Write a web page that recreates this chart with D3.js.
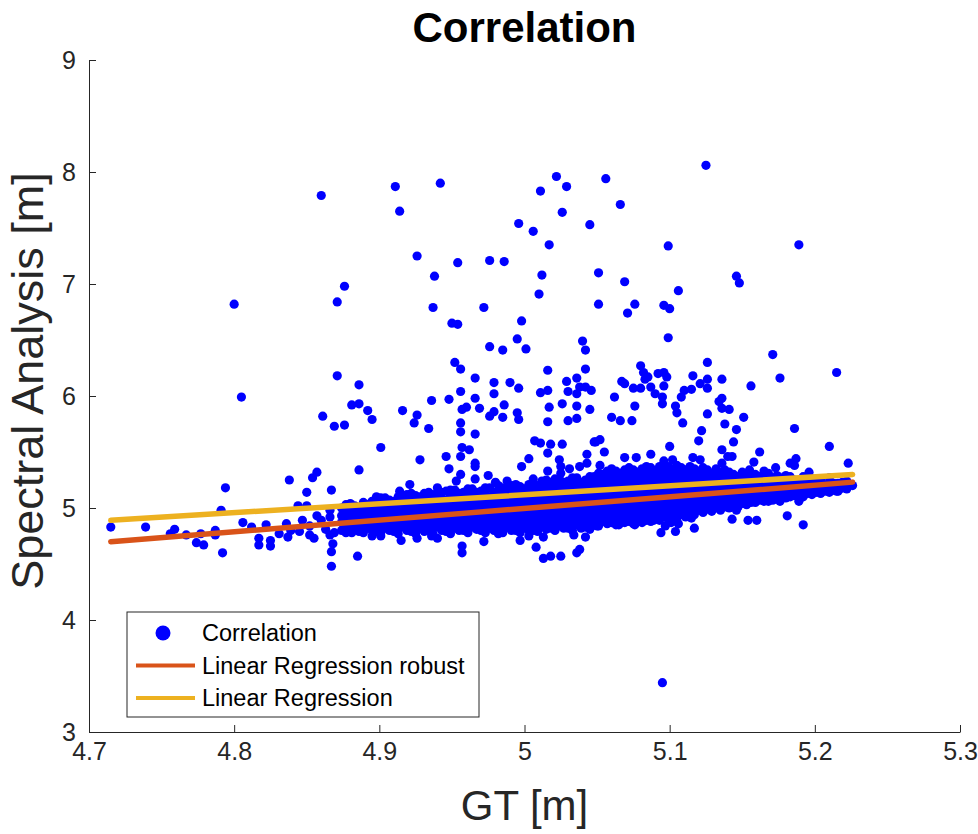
<!DOCTYPE html>
<html>
<head>
<meta charset="utf-8">
<script src="https://cdn.jsdelivr.net/npm/d3@7"></script>
<style>
  body { margin: 0; background: #fff; }
  svg { display: block; font-family: "Liberation Sans", Arial, Helvetica, sans-serif; }
</style>
</head>
<body>
<div id="chart"></div>
<script>
// Axis ticks.
const xTicks = [4.7, 4.8, 4.9, 5.0, 5.1, 5.2, 5.3];
const xTickLabels = ['4.7', '4.8', '4.9', '5', '5.1', '5.2', '5.3'];
const yTicks = [3, 4, 5, 6, 7, 8, 9];
const yTickLabels = ['3', '4', '5', '6', '7', '8', '9'];

// Scattered points above the band, [GT, spectral].
const pointsUpper = [
  [4.860,7.79],[4.876,6.98],[4.800,6.82],[4.871,6.84],[4.871,6.18],[4.911,7.87],[4.942,7.90],[4.914,7.65],
  [5.022,7.96],[5.029,7.87],[5.011,7.83],[5.026,7.64],[4.996,7.54],[5.006,7.47],[5.017,7.35],[5.045,7.53],
  [4.926,7.25],[4.954,7.19],[4.976,7.21],[4.986,7.20],[4.938,7.07],[5.012,7.08],[5.051,7.10],[5.010,6.91],
  [5.051,6.82],[4.937,6.79],[4.972,6.79],[4.998,6.67],[4.950,6.65],[4.954,6.64],[4.995,6.51],[4.976,6.44],
  [4.985,6.41],[5.001,6.42],[5.040,6.49],[5.042,6.41],[4.952,6.30],[4.956,6.24],[5.016,6.23],[5.042,6.24],
  [4.886,6.10],[4.966,6.16],[4.979,6.12],[4.990,6.12],[4.996,6.07],[5.029,6.13],[5.036,6.16],[4.956,6.04],
  [4.979,6.02],[5.011,6.03],[5.016,6.05],[5.038,6.08],[5.042,6.08],[5.046,6.05],[5.030,6.04],[5.036,6.02],
  [5.125,8.06],[5.056,7.94],[5.066,7.71],[5.099,7.34],[5.189,7.35],[5.069,7.02],[5.146,7.07],[5.148,7.01],
  [5.106,6.94],[5.076,6.82],[5.071,6.74],[5.096,6.81],[5.100,6.78],[5.099,6.52],[5.171,6.37],[5.126,6.30],
  [5.080,6.27],[5.215,6.21],[5.176,6.16],[5.136,6.15],[5.116,6.18],[5.156,6.09],[5.082,6.21],[5.092,6.20],
  [5.096,6.21],[5.098,6.17],[5.085,6.17],[5.083,6.15],[5.067,6.13],[5.069,6.11],[5.075,6.07],[5.080,6.07],
  [5.087,6.08],[5.096,6.09],[5.126,6.15],[5.126,6.07],[5.121,6.11],[5.115,6.06],[5.110,6.05],[5.095,3.44]
];

const pointsMid = [
  [4.805,5.99],[4.936,5.96],[4.948,5.97],[4.966,5.98],[5.108,5.99],[5.062,5.99],[5.136,5.98],[5.090,6.02],
  [5.095,5.99],[4.861,5.82],[4.869,5.73],[4.876,5.74],[4.881,5.92],[4.886,5.93],[4.892,5.87],[4.895,5.79],
  [4.916,5.87],[4.926,5.83],[4.924,5.76],[4.934,5.71],[4.957,5.88],[4.960,5.90],[4.969,5.89],[4.956,5.76],
  [4.956,5.68],[4.966,5.66],[4.976,5.82],[4.979,5.86],[4.986,5.92],[4.985,5.81],[4.995,5.85],[4.996,5.79],
  [5.016,5.77],[5.017,5.90],[5.026,5.93],[5.030,5.78],[5.036,5.80],[5.036,5.91],[5.045,5.88],
  [4.901,5.54],[4.928,5.43],[4.886,5.34],[4.946,5.46],[4.948,5.35],[4.956,5.46],[4.957,5.54],[4.962,5.52],
  [4.966,5.40],[4.966,5.37],[4.966,5.26],[4.975,5.29],[4.956,5.30],[4.953,5.24],[5.007,5.60],[5.011,5.58],
  [5.018,5.57],[5.026,5.57],[5.016,5.49],[5.003,5.44],[4.998,5.37],[5.024,5.43],[5.025,5.37],[5.025,5.31],
  [5.031,5.35],[5.043,5.48],[5.043,5.40],[5.038,5.37],[5.048,5.59],[5.016,5.33],[5.015,5.25],[5.006,5.26],
  [4.988,5.24],[4.980,5.23],[4.921,5.21],[4.914,5.15],[4.940,5.18],[4.898,5.10],
  [5.076,5.91],[5.095,5.93],[5.104,5.91],[5.105,5.85],[5.126,5.84],[5.134,5.95],[5.136,5.89],[5.141,5.88],
  [5.151,5.81],[5.060,5.81],[5.066,5.78],[5.074,5.78],[5.109,5.76],[5.138,5.75],[5.146,5.70],[5.122,5.69],
  [5.186,5.71],[5.049,5.59],[5.052,5.61],[5.100,5.55],[5.120,5.60],[5.144,5.59],[5.136,5.52],[5.210,5.55],
  [5.055,5.50],[5.087,5.48],[5.162,5.50],[5.140,5.46],[5.143,5.46],[5.069,5.45],[5.077,5.45],[5.116,5.45],
  [5.121,5.43],[5.096,5.42],[5.102,5.43],[5.136,5.40],[5.158,5.41],[5.052,5.38],[5.223,5.40],[5.183,5.40],
  [5.187,5.44],[5.173,5.36],[5.165,5.33],[5.155,5.34],[5.196,5.32],[5.186,5.38]
];

const pointsLow = [
  [4.794,5.18],[4.838,5.25],[4.857,5.32],[4.854,5.27],[4.850,5.14],[4.867,5.16],[4.791,4.98],[4.844,5.02],
  [4.850,5.02],[4.866,4.98],[4.715,4.83],[4.739,4.83],[4.759,4.81],[4.756,4.77],[4.767,4.76],[4.777,4.77],
  [4.774,4.69],[4.779,4.67],[4.787,4.80],[4.787,4.76],[4.792,4.60],[4.806,4.87],[4.812,4.83],[4.822,4.85],
  [4.817,4.73],[4.817,4.67],[4.825,4.71],[4.825,4.66],[4.831,4.77],[4.836,4.86],[4.837,4.74],[4.839,4.80],
  [4.845,4.79],[4.847,4.89],[4.852,4.84],[4.852,4.76],[4.855,4.73],[4.857,4.93],[4.860,4.89],[4.863,4.81],
  [4.866,4.76],[4.869,4.78],[4.868,4.68],[4.867,4.61],[4.867,4.48],[4.866,4.92],[4.877,4.94],[4.877,4.83],
  [4.885,4.57],[4.957,4.60],[4.957,4.66],[4.972,4.70],[4.997,4.71],[5.008,4.65],[5.013,4.55],[5.018,4.57],
  [5.025,4.57],[5.036,4.60],[5.038,4.63],[5.042,4.74],[5.034,4.76],[5.013,4.74],[5.003,4.75],[4.982,4.77],
  [4.940,4.73],[4.936,4.75],[4.926,4.73],[4.915,4.71],[4.901,4.75],[4.895,4.75],[4.881,4.78],
  [5.143,4.90],[5.154,4.89],[5.160,4.89],[5.181,4.93],[5.192,4.85],[5.189,5.06],[5.176,5.06],[5.215,5.15],
  [5.204,5.16],[5.117,4.82],[5.104,4.79],[5.094,4.78],[5.097,4.84],[5.106,4.86],[5.065,4.85],[5.076,4.85],
  [5.050,4.84],[5.089,4.89],[5.101,4.87],[5.115,4.91],[5.146,4.98],[5.121,4.99],[5.226,5.20],[5.219,5.18],
  [5.209,5.17]
];

// Dense band: GT columns and the spectral values read in each column.
const bandGT = [
  4.874, 4.880, 4.886, 4.892, 4.898, 4.904, 4.910, 4.916, 4.922, 4.928, 4.934, 4.940, 4.946, 4.952, 4.958,
  4.964, 4.970, 4.976, 4.982, 4.988, 4.994, 5.000, 5.006, 5.012, 5.018, 5.024, 5.030, 5.036, 5.042, 5.048,
  5.054, 5.060, 5.066, 5.072, 5.078, 5.084, 5.090, 5.096, 5.102, 5.108, 5.114, 5.120, 5.126, 5.132, 5.138,
  5.144, 5.150, 5.156, 5.162, 5.168, 5.174, 5.180, 5.186, 5.192, 5.198, 5.204, 5.210, 5.216, 5.222
];
const bandSpec = [
  [4.80,4.87,4.93,5.00], [4.83,4.90,4.97,5.04], [4.79,4.86,4.93,5.00], [4.82,4.89,4.96,5.03],
  [4.79,4.86,4.93,5.00,5.07], [4.82,4.89,4.96,5.03,5.09], [4.79,4.86,4.93,5.00,5.06], [4.83,4.90,4.97,5.04,5.10],
  [4.79,4.86,4.93,5.00,5.07,5.13], [4.82,4.89,4.96,5.03,5.10], [4.80,4.87,4.94,5.01,5.08,5.14],
  [4.83,4.90,4.97,5.04,5.11], [4.79,4.86,4.93,5.00,5.07,5.15], [4.82,4.89,4.96,5.03,5.10,5.16],
  [4.80,4.87,4.94,5.01,5.08,5.14], [4.83,4.90,4.97,5.04,5.11,5.17], [4.80,4.87,4.94,5.01,5.08,5.15],
  [4.82,4.89,4.96,5.03,5.10,5.18], [4.80,4.87,4.94,5.01,5.08,5.15,5.20], [4.83,4.90,4.97,5.04,5.11,5.18],
  [4.80,4.87,4.94,5.01,5.08,5.15,5.21], [4.82,4.89,4.96,5.03,5.10,5.17], [4.80,4.87,4.94,5.01,5.08,5.15,5.22],
  [4.83,4.90,4.97,5.04,5.11,5.18,5.24], [4.82,4.89,4.96,5.03,5.10,5.17,5.23], [4.84,4.91,4.98,5.05,5.12,5.19,5.26],
  [4.82,4.89,4.96,5.03,5.10,5.17,5.24], [4.85,4.92,4.99,5.06,5.13,5.20,5.27], [4.83,4.90,4.97,5.04,5.11,5.18,5.25],
  [4.86,4.93,5.00,5.07,5.14,5.21,5.28], [4.88,4.95,5.02,5.09,5.16,5.23,5.30], [4.87,4.94,5.01,5.08,5.15,5.22,5.29,5.35],
  [4.89,4.96,5.03,5.10,5.17,5.24,5.31], [4.88,4.95,5.02,5.09,5.16,5.23,5.30,5.36], [4.90,4.97,5.04,5.11,5.18,5.25,5.32],
  [4.89,4.96,5.03,5.10,5.17,5.24,5.31,5.37], [4.91,4.98,5.05,5.12,5.19,5.26,5.33], [4.92,4.99,5.06,5.13,5.20,5.27,5.34,5.39],
  [4.93,5.00,5.07,5.14,5.21,5.28,5.35], [4.94,5.01,5.08,5.15,5.22,5.29,5.36], [4.96,5.03,5.10,5.17,5.24,5.31,5.37],
  [4.98,5.05,5.12,5.19,5.26,5.33], [4.99,5.06,5.13,5.20,5.27,5.34], [5.00,5.07,5.14,5.21,5.28,5.35],
  [5.01,5.08,5.15,5.22,5.29,5.34], [5.02,5.09,5.16,5.23,5.30], [5.04,5.11,5.18,5.25,5.32], [5.05,5.12,5.19,5.26,5.31],
  [5.07,5.14,5.21,5.28], [5.06,5.13,5.20,5.27,5.31], [5.08,5.15,5.22,5.29], [5.09,5.16,5.23,5.29], [5.11,5.18,5.25],
  [5.10,5.17,5.24,5.28], [5.12,5.19,5.26], [5.13,5.20,5.26], [5.14,5.21,5.27], [5.15,5.22], [5.17,5.24]
];

// Second set of band columns, read between the first ones.
const bandGT2 = [
  4.877, 4.883, 4.889, 4.895, 4.901, 4.907, 4.913, 4.919, 4.925, 4.931, 4.937, 4.943, 4.949, 4.955, 4.961,
  4.967, 4.973, 4.979, 4.985, 4.991, 4.997, 5.003, 5.009, 5.015, 5.021, 5.027, 5.033, 5.039, 5.045, 5.051,
  5.057, 5.063, 5.069, 5.075, 5.081, 5.087, 5.093, 5.099, 5.105, 5.111, 5.117, 5.123, 5.129, 5.135, 5.141,
  5.147, 5.153, 5.159, 5.165, 5.171, 5.177, 5.183, 5.189, 5.195, 5.201, 5.207, 5.213, 5.219
];
const bandSpec2 = [
  [4.78,4.85,4.91,4.97,5.03], [4.81,4.88,4.95,5.02], [4.78,4.84,4.91,4.98,5.05], [4.80,4.87,4.94,5.01,5.06],
  [4.78,4.84,4.91,4.98,5.05,5.09], [4.80,4.87,4.94,5.01,5.07], [4.77,4.83,4.90,4.97,5.04,5.10],
  [4.80,4.87,4.94,5.01,5.08,5.12], [4.77,4.84,4.91,4.98,5.05,5.11], [4.79,4.86,4.93,5.00,5.07,5.13],
  [4.77,4.84,4.91,4.98,5.05,5.12], [4.80,4.87,4.94,5.01,5.08,5.14], [4.77,4.83,4.90,4.97,5.04,5.11,5.16],
  [4.80,4.86,4.93,5.00,5.07,5.13], [4.78,4.84,4.91,4.98,5.05,5.12,5.17], [4.81,4.87,4.94,5.01,5.08,5.14],
  [4.78,4.84,4.91,4.98,5.05,5.12,5.18], [4.80,4.86,4.93,5.00,5.07,5.14], [4.78,4.84,4.91,4.98,5.05,5.12,5.18],
  [4.80,4.86,4.93,5.00,5.07,5.14,5.20], [4.78,4.84,4.91,4.98,5.05,5.12,5.19], [4.80,4.86,4.93,5.00,5.07,5.14,5.21],
  [4.79,4.85,4.92,4.99,5.06,5.13,5.20], [4.81,4.87,4.94,5.01,5.08,5.15,5.22], [4.80,4.86,4.93,5.00,5.07,5.14,5.21,5.26],
  [4.82,4.88,4.95,5.02,5.09,5.16,5.23], [4.80,4.86,4.93,5.00,5.07,5.14,5.21,5.27], [4.82,4.88,4.95,5.02,5.09,5.16,5.23],
  [4.81,4.87,4.94,5.01,5.08,5.15,5.22,5.28], [4.84,4.90,4.97,5.04,5.11,5.18,5.25,5.31],
  [4.86,4.92,4.99,5.06,5.13,5.20,5.27,5.33], [4.85,4.91,4.98,5.05,5.12,5.19,5.26,5.33],
  [4.87,4.93,5.00,5.07,5.14,5.21,5.28,5.34], [4.86,4.92,4.99,5.06,5.13,5.20,5.27,5.34],
  [4.87,4.94,5.01,5.08,5.15,5.22,5.29,5.35], [4.88,4.94,5.01,5.08,5.15,5.22,5.29,5.36],
  [4.89,4.95,5.02,5.09,5.16,5.23,5.30,5.37], [4.90,4.96,5.03,5.10,5.17,5.24,5.31,5.37],
  [4.91,4.97,5.04,5.11,5.18,5.25,5.32,5.38], [4.92,4.99,5.06,5.13,5.20,5.27,5.34],
  [4.94,5.00,5.07,5.14,5.21,5.28,5.35], [4.96,5.02,5.09,5.16,5.23,5.30,5.36], [4.97,5.03,5.10,5.17,5.24,5.31],
  [4.98,5.04,5.11,5.18,5.25,5.32], [5.00,5.06,5.13,5.20,5.27,5.32], [5.01,5.07,5.14,5.21,5.28],
  [5.03,5.09,5.16,5.23,5.29], [5.05,5.11,5.18,5.25,5.30], [5.06,5.12,5.19,5.26], [5.07,5.13,5.20,5.27],
  [5.09,5.15,5.21,5.27], [5.10,5.16,5.22,5.28], [5.12,5.18,5.24], [5.13,5.19,5.25], [5.14,5.20,5.25],
  [5.15,5.21], [5.16,5.22], [5.18,5.23]
];

// Fitted lines: [intercept, slope].
const fitLinear = [1.118, 0.80];
const fitRobust = [-0.204, 1.04];

const legendLabels = ['Correlation', 'Linear Regression robust', 'Linear Regression'];
const colors = { dots: '#0000ff', robust: '#D95319', linear: '#EDB120', axis: '#262626' };

// Data prep.
const bandPoints = [];
bandGT.forEach((gt, i) => bandSpec[i].forEach(s => bandPoints.push([gt, s])));
bandGT2.forEach((gt, i) => bandSpec2[i].forEach(s => bandPoints.push([gt, s])));
const allPoints = pointsLow.concat(pointsMid, pointsUpper, bandPoints);
const xExtent = d3.extent(allPoints, d => d[0]);

// Margin convention.
const margin = { top: 60, right: 18, bottom: 102, left: 89 };
const chartWidth = 978, chartHeight = 834;
const width = chartWidth - margin.left - margin.right;
const height = chartHeight - margin.top - margin.bottom;

const xScale = d3.scaleLinear().domain([4.7, 5.3]).range([0, width]);
const yScale = d3.scaleLinear().domain([3, 9]).range([height, 0]);

const svg = d3.select('#chart')
  .append('svg')
  .attr('width', chartWidth)
  .attr('height', chartHeight);

const g = svg.append('g').attr('transform', `translate(${margin.left},${margin.top})`);

// Dots.
g.append('g')
  .selectAll('circle')
  .data(allPoints)
  .join('circle')
  .attr('cx', d => xScale(d[0]))
  .attr('cy', d => yScale(d[1]))
  .attr('r', 4.6)
  .attr('fill', colors.dots);

// Regression lines.
const line = d3.line().x(d => xScale(d[0])).y(d => yScale(d[1]));
const fitPts = f => xExtent.map(x => [x, f[0] + f[1] * x]);

g.append('path')
  .attr('d', line(fitPts(fitRobust)))
  .attr('stroke', colors.robust)
  .attr('stroke-width', 5.5)
  .attr('stroke-linecap', 'round')
  .attr('fill', 'none');

g.append('path')
  .attr('d', line(fitPts(fitLinear)))
  .attr('stroke', colors.linear)
  .attr('stroke-width', 5.5)
  .attr('stroke-linecap', 'round')
  .attr('fill', 'none');

// Axes.
const xAxis = d3.axisBottom(xScale)
  .tickValues(xTicks)
  .tickFormat((d, i) => xTickLabels[i])
  .tickSizeInner(-7)
  .tickSizeOuter(0)
  .tickPadding(10);
const yAxis = d3.axisLeft(yScale)
  .tickValues(yTicks)
  .tickFormat((d, i) => yTickLabels[i])
  .tickSizeInner(-7)
  .tickSizeOuter(0)
  .tickPadding(13);

const xAxisDraw = g.append('g').attr('transform', `translate(0,${height})`).call(xAxis);
const yAxisDraw = g.append('g').call(yAxis);

[xAxisDraw, yAxisDraw].forEach(a => {
  a.selectAll('path, line').attr('stroke', colors.axis).attr('stroke-width', 1);
  a.selectAll('text')
    .attr('fill', colors.axis)
    .style('font-size', '25px')
    .style('font-family', '"Liberation Sans", Arial, sans-serif');
});

// Title and labels.
svg.append('text')
  .attr('x', margin.left + width / 2)
  .attr('y', 42)
  .attr('text-anchor', 'middle')
  .style('font-size', '42px')
  .style('font-weight', 'bold')
  .attr('fill', '#000')
  .text('Correlation');

svg.append('text')
  .attr('x', margin.left + width / 2)
  .attr('y', 820)
  .attr('text-anchor', 'middle')
  .style('font-size', '42px')
  .attr('fill', colors.axis)
  .text('GT [m]');

svg.append('text')
  .attr('transform', 'translate(43,381) rotate(-90)')
  .attr('text-anchor', 'middle')
  .style('font-size', '45px')
  .attr('fill', colors.axis)
  .text('Spectral Analysis [m]');

// Legend.
const legend = svg.append('g').attr('transform', 'translate(127,612)');
legend.append('rect')
  .attr('width', 352)
  .attr('height', 105)
  .attr('fill', '#fff')
  .attr('stroke', colors.axis)
  .attr('stroke-width', 1);

const rows = legend.selectAll('g.row')
  .data(legendLabels)
  .join('g')
  .attr('class', 'row')
  .attr('transform', (d, i) => `translate(0,${21 + i * 32.5})`);

rows.filter((d, i) => i === 0)
  .append('circle')
  .attr('cx', 36)
  .attr('r', 7.5)
  .attr('fill', colors.dots);

rows.filter((d, i) => i > 0)
  .append('line')
  .attr('x1', 9)
  .attr('x2', 68)
  .attr('stroke', (d, i) => i === 0 ? colors.robust : colors.linear)
  .attr('stroke-width', 4);

rows.append('text')
  .attr('x', 75)
  .attr('dy', '0.36em')
  .style('font-size', '23.5px')
  .attr('fill', '#000')
  .text(d => d);
</script>
</body>
</html>
